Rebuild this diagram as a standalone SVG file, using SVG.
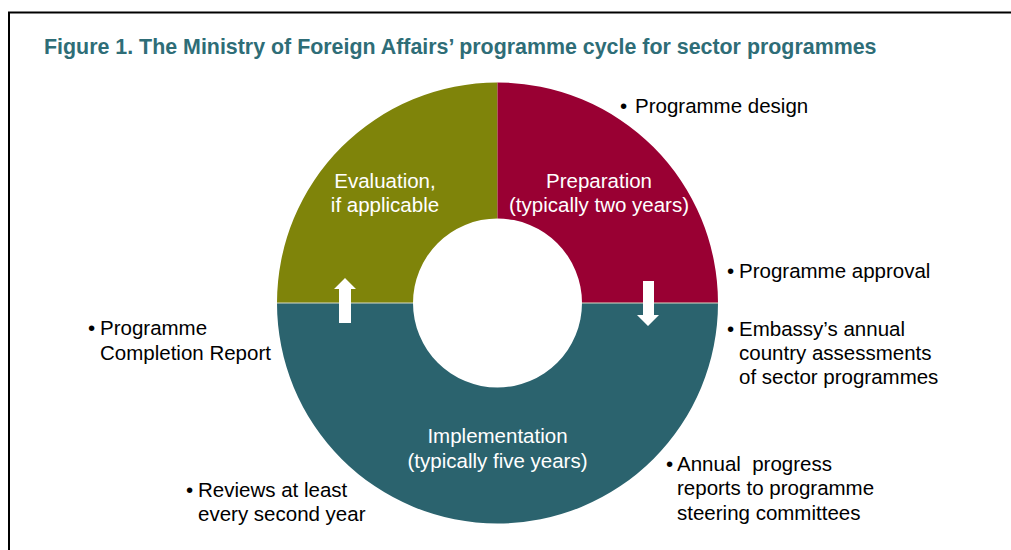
<svg xmlns="http://www.w3.org/2000/svg" width="1011" height="550" viewBox="0 0 1011 550">
  <style>
    .title { font-family: "Liberation Sans", Arial, sans-serif; font-weight: bold; font-size: 21.4px; fill: #2e6d77; }
    .lbl { font-family: "Liberation Sans", Arial, sans-serif; font-size: 20.5px; fill: #ffffff; text-anchor: middle; }
    .note { font-family: "Liberation Sans", Arial, sans-serif; font-size: 20.5px; fill: #000000; white-space: pre; }
    .seam { stroke: #d9dcc8; stroke-width: 1; }
    .arrow { fill: #ffffff; }
  </style>
  <rect x="0" y="0" width="1011" height="550" fill="#ffffff"/>
  <!-- frame: top and left rules -->
  <path d="M9 550 V12.5 H1011" fill="none" stroke="#000000" stroke-width="2"/>

  <text class="title" x="44" y="54">Figure 1. The Ministry of Foreign Affairs’ programme cycle for sector programmes</text>

  <!-- ring centred at (497.5, 303), outer r 220.5, inner r 84.5 -->
  <g id="evaluation">
    <path d="M277 303 A220.5 220.5 0 0 1 497.5 82.5 V218.5 A84.5 84.5 0 0 0 413 303 Z" fill="#7f840a"/>
    <text class="lbl" x="385" y="188">Evaluation,</text>
    <text class="lbl" x="385" y="212">if applicable</text>
  </g>
  <g id="preparation">
    <path d="M497.5 82.5 A220.5 220.5 0 0 1 718 303 H582 A84.5 84.5 0 0 0 497.5 218.5 Z" fill="#990033"/>
    <text class="lbl" x="599" y="188">Preparation</text>
    <text class="lbl" x="599" y="212">(typically two years)</text>
  </g>
  <g id="implementation">
    <path d="M277 303 A220.5 220.5 0 0 0 718 303 H582 A84.5 84.5 0 0 1 413 303 Z" fill="#2b636e"/>
    <line class="seam" x1="277" y1="303" x2="413" y2="303"/>
    <line class="seam" x1="582" y1="303" x2="718" y2="303"/>
    <text class="lbl" x="497.5" y="443">Implementation</text>
    <text class="lbl" x="497.5" y="468">(typically five years)</text>
  </g>

  <g id="connectors">
    <!-- preparation -> implementation -->
    <path class="arrow" d="M643 281 H654 V315 H659 L648 326 L637 315 H643 Z"/>
    <!-- implementation -> evaluation -->
    <path class="arrow" d="M339 323 H351 V289 H356 L345 278 L334 289 H339 Z"/>
  </g>

  <g id="note-design">
    <text class="note" x="620" y="113">•</text>
    <text class="note" x="635" y="113">Programme design</text>
  </g>
  <g id="note-approval">
    <text class="note" x="727" y="278">•</text>
    <text class="note" x="739" y="278">Programme approval</text>
  </g>
  <g id="note-embassy">
    <text class="note" x="727" y="336">•</text>
    <text class="note" x="739" y="336">Embassy’s annual</text>
    <text class="note" x="739" y="360">country assessments</text>
    <text class="note" x="739" y="384">of sector programmes</text>
  </g>
  <g id="note-progress">
    <text class="note" x="666" y="471">•</text>
    <text class="note" x="677" y="471" xml:space="preserve">Annual  progress</text>
    <text class="note" x="677" y="495">reports to programme</text>
    <text class="note" x="677" y="520">steering committees</text>
  </g>
  <g id="note-completion">
    <text class="note" x="88" y="335">•</text>
    <text class="note" x="100" y="335">Programme</text>
    <text class="note" x="100" y="360">Completion Report</text>
  </g>
  <g id="note-reviews">
    <text class="note" x="186" y="497">•</text>
    <text class="note" x="198" y="497">Reviews at least</text>
    <text class="note" x="198" y="521">every second year</text>
  </g>
</svg>
